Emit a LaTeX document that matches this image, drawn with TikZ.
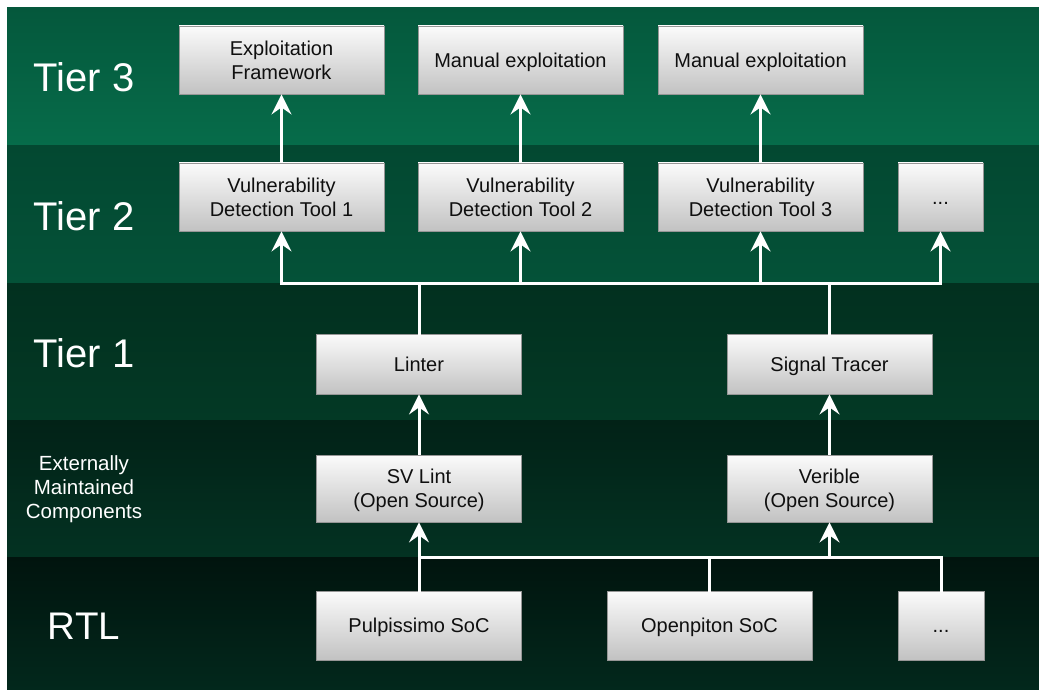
\documentclass[tikz,border=0pt]{standalone}
\usepackage{fontspec}
\setmainfont{Liberation Sans}
\usetikzlibrary{arrows.meta}
\definecolor{t3a}{RGB}{5,88,60}
\definecolor{t3b}{RGB}{6,108,74}
\definecolor{t2a}{RGB}{3,72,49}
\definecolor{t2b}{RGB}{4,82,56}
\definecolor{t1a}{RGB}{2,48,31}
\definecolor{t1b}{RGB}{3,57,37}
\definecolor{exa}{RGB}{2,34,23}
\definecolor{exb}{RGB}{3,50,34}
\definecolor{rta}{RGB}{1,20,14}
\definecolor{rtb}{RGB}{2,40,28}
\definecolor{boxtop}{RGB}{251,251,251}
\definecolor{boxbot}{RGB}{194,194,194}
\definecolor{boxline}{RGB}{150,150,150}
\definecolor{boxtext}{RGB}{15,15,15}
\begin{document}
\begin{tikzpicture}[x=1pt,y=-1pt,
  box/.style={draw=boxline, line width=0.8pt, top color=boxtop, bottom color=boxbot,
    minimum width=205pt, minimum height=68pt, inner sep=0pt, align=center,
    text height=14.5pt, text depth=0pt,
    font=\fontsize{20}{24}\selectfont, text=boxtext},
  twoline/.style={text height=38.5pt},
  conn/.style={white, line width=3pt, line cap=rect},
  arr/.style={white, line width=3pt, -{Stealth[length=20pt,width=20pt,inset=7pt]}},
  tier/.style={text=white, font=\fontsize{40}{48}\selectfont, anchor=base, inner sep=0pt},
  side/.style={text=white, font=\fontsize{20.5}{24}\selectfont, align=center, inner sep=0pt},
]
\fill[white] (0,0) rectangle (1039,690);
\shade[top color=t3a, bottom color=t3b] (7,8) rectangle (1039,146);
\shade[top color=t2a, bottom color=t2b] (7,146) rectangle (1039,283);
\shade[top color=t1a, bottom color=t1b] (7,283) rectangle (1039,420);
\shade[top color=exa, bottom color=exb] (7,420) rectangle (1039,557);
\shade[top color=rta, bottom color=rtb] (7,557) rectangle (1039,690);

% tier labels
\node[tier] (l3) at (84,92) {Tier 3};
\node[tier] (l2) at (84,230) {Tier 2};
\node[tier] (l1) at (84,367) {Tier 1};
\node[side] (lx) at (84,489) {Externally\\Maintained\\Components};
\node[tier, font=\fontsize{38.5}{46}\selectfont] (lr) at (84,639) {RTL};

% tier 3
\node[box, twoline] (ef) at (281.5,60) {Exploitation\\Framework};
\node[box] (me1) at (520.5,60) {Manual exploitation};
\node[box] (me2) at (760.5,60) {Manual exploitation};
% tier 2
\node[box, twoline] (vd1) at (281.5,197) {Vulnerability\\Detection Tool 1};
\node[box, twoline] (vd2) at (520.5,197) {Vulnerability\\Detection Tool 2};
\node[box, twoline] (vd3) at (760.5,197) {Vulnerability\\Detection Tool 3};
\node[box, minimum width=85pt] (vd4) at (940.5,197) {...};
% tier 1
\node[box, minimum height=60pt] (lint) at (419,364) {Linter};
\node[box, minimum height=60pt] (sig) at (829.5,364) {Signal Tracer};
% external
\node[box, twoline, minimum height=67pt] (svl) at (419,488.5) {SV Lint\\(Open Source)};
\node[box, twoline, minimum height=67pt] (ver) at (829.5,488.5) {Verible\\(Open Source)};
% RTL
\node[box, minimum height=69pt] (pulp) at (419,625.5) {Pulpissimo SoC};
\node[box, minimum height=69pt] (open) at (709.5,625.5) {Openpiton SoC};
\node[box, minimum width=86pt, minimum height=69pt] (more) at (941,625.5) {...};

% bus junctions
\coordinate (b1l) at (281.5,283);
\coordinate (b1r) at (940.5,283);
\coordinate (b2l) at (419,557);
\coordinate (b2r) at (941,557);

% tier2 -> tier3
\draw[arr] (vd1.north) -- (ef.south);
\draw[arr] (vd2.north) -- (me1.south);
\draw[arr] (vd3.north) -- (me2.south);

% bus 1
\draw[conn] (b1l) -- (b1r);
\draw[conn] (lint.north) -- (lint.north |- b1l);
\draw[conn] (sig.north) -- (sig.north |- b1l);
\draw[arr] (b1l) -- (vd1.south);
\draw[arr] (vd2.south |- b1l) -- (vd2.south);
\draw[arr] (vd3.south |- b1l) -- (vd3.south);
\draw[arr] (b1r) -- (vd4.south);

% external -> tier 1
\draw[arr] (svl.north) -- (lint.south);
\draw[arr] (ver.north) -- (sig.south);

% bus 2
\draw[conn] (b2l) -- (b2r);
\draw[conn] (pulp.north) -- (b2l);
\draw[conn] (open.north) -- (open.north |- b2l);
\draw[conn] (more.north) -- (b2r);
\draw[arr] (b2l) -- (svl.south);
\draw[arr] (ver.south |- b2l) -- (ver.south);
\end{tikzpicture}
\end{document}
